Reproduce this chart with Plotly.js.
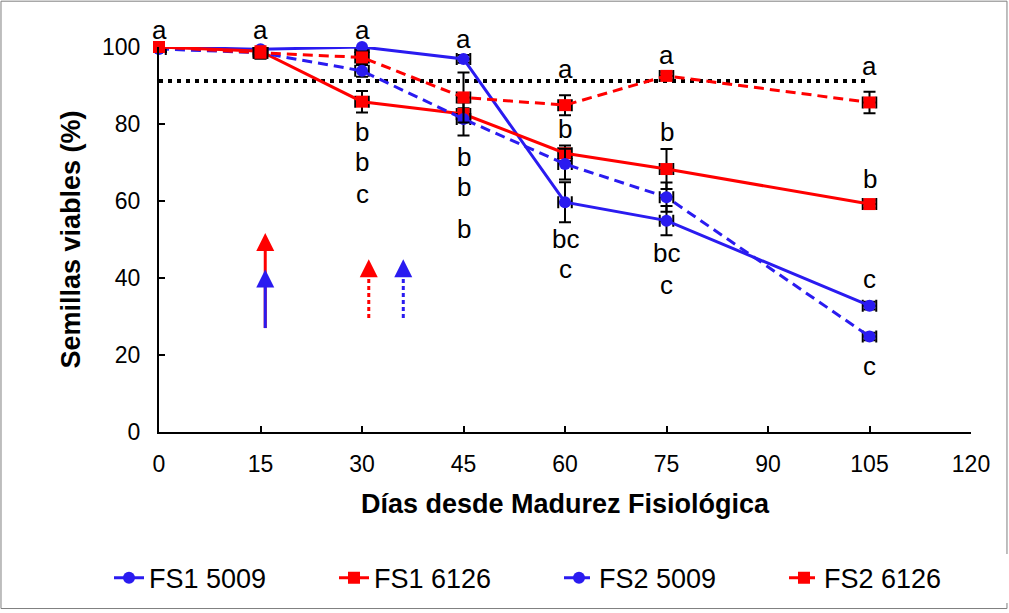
<!DOCTYPE html>
<html>
<head>
<meta charset="utf-8">
<script src="https://cdn.plot.ly/plotly-3.0.1.min.js"></script>
<style>
html,body{margin:0;padding:0;background:#fff;}
#chart{width:1009px;height:613px;}
</style>
</head>
<body>
<div id="chart"></div>
<script>
// ---- data ----
const days = [0, 15, 30, 45, 60, 75, 105];
const seriesNames = ["FS1 5009", "FS1 6126", "FS2 5009", "FS2 6126"];
const fs1_5009 = [100, 99.4, 100, 96.9, 59.7, 54.9, 32.8];
const fs1_6126 = [100, 98.9, 85.8, 82.6, 72.4, 68.3, 59.2];
const fs2_5009 = [99.5, 98.5, 93.8, 81.3, 69.6, 61.0, 24.8];
const fs2_6126 = [100, 98.5, 97.3, 86.9, 84.9, 92.5, 85.6];
const err_fs1_5009 = [0.5, 1.5, 0.8, 1, 5.2, 3.8, 1];
const err_fs1_6126 = [0.5, 1.5, 2.8, 1.5, 2, 5.2, 1];
const err_fs2_5009 = [0.5, 1.5, 1.5, 4.3, 4, 3.8, 1];
const err_fs2_6126 = [0.5, 1.5, 1.5, 6.5, 2.6, 1, 2.8];
const errX = [1, 1, 1, 1, 1, 1, 1];
const refLineY = 91.2;
const refLineX = [0, 105];

const xTicks = [0, 15, 30, 45, 60, 75, 90, 105, 120];
const yTicks = [0, 20, 40, 60, 80, 100];
const yMax = 100;

// significance letters
const letterX = [0, 15, 30, 30, 30, 30, 45, 45, 45, 45, 60, 60, 60, 60, 75, 75, 75, 75, 105, 105, 105, 105];
const letterY = [104.4, 104.4, 104.4, 77.9, 70.1, 61.8, 102.1, 71.4, 63.6, 52.7, 94.3, 78.7, 50.1, 42.3, 97.9, 77.9, 46.5, 38.2, 95.1, 65.7, 39.7, 17.1];
const letterText = ["a", "a", "a", "b", "b", "c", "a", "b", "b", "b", "a", "b", "bc", "c", "a", "b", "bc", "c", "a", "b", "c", "c"];

// arrows (x, base, tip)
const arrowX = [15.7, 15.7, 31.0, 36.1];
const arrowBase = [27, 27, 29.6, 29.6];
const arrowTip = [51.7, 42.2, 44.9, 44.9];
const arrowColor = ["#ff0000", "#2a1bf0", "#ff0000", "#2a1bf0"];
const arrowDash = ["solid", "solid", "dot", "dot"];

const BLUE = "#2a1bf0";
const RED = "#ff0000";
const FONT = "Liberation Sans, Arial, sans-serif";

function mk(name, y, err, color, dash, symbol, size) {
  return {
    x: days, y: y, name: name, type: "scatter", mode: "lines+markers",
    cliponaxis: false,
    line: {color: color, width: 3, dash: dash},
    marker: {color: color, symbol: symbol, size: size},
    error_y: {type: "data", array: err, visible: true, color: "#000", thickness: 2, width: 6},
    error_x: {type: "data", array: errX, visible: true, color: "#000", thickness: 2, width: 6}
  };
}

const traces = [
  mk(seriesNames[0], fs1_5009, err_fs1_5009, BLUE, "solid", "circle", 12),
  mk(seriesNames[1], fs1_6126, err_fs1_6126, RED, "solid", "square", 12),
  mk(seriesNames[2], fs2_5009, err_fs2_5009, BLUE, "10px,6px", "circle", 12),
  mk(seriesNames[3], fs2_6126, err_fs2_6126, RED, "10px,6px", "square", 12)
];

const shapes = [
  {type: "line", xref: "x", yref: "y", x0: refLineX[0], x1: refLineX[1], y0: refLineY, y1: refLineY,
   line: {color: "#000", width: 4, dash: "4px,5px"}, layer: "below"},
  {type: "rect", xref: "paper", yref: "paper", x0: -0.1946, x1: 1.0443, y0: -0.4585, y1: 1.119,
   line: {color: "#7f7f7f", width: 1}}
];
const annotations = [];
for (let i = 0; i < arrowX.length; i++) {
  shapes.push({type: "line", xref: "x", yref: "y", x0: arrowX[i], x1: arrowX[i],
    y0: arrowBase[i], y1: arrowTip[i] - 3, line: {color: arrowColor[i], width: 3, dash: arrowDash[i] === "dot" ? "4px,3px" : "solid"}});
  annotations.push({xref: "x", yref: "y", axref: "x", ayref: "y", x: arrowX[i], y: arrowTip[i],
    ax: arrowX[i], ay: arrowTip[i] - 4, text: "", showarrow: true, arrowhead: 2,
    arrowsize: 1.2, arrowwidth: 3, arrowcolor: arrowColor[i], standoff: 0, startstandoff: 0});
}
for (let i = 0; i < letterX.length; i++) {
  // paper y so labels above the axis top are still drawn
  annotations.push({xref: "x", yref: "paper", x: letterX[i], y: letterY[i] / yMax, text: letterText[i],
    showarrow: false, font: {family: FONT, size: 26, color: "#000"}, xanchor: "center", yanchor: "middle"});
}

const layout = {
  width: 1009, height: 613,
  margin: {l: 159, r: 38, t: 47, b: 180},
  paper_bgcolor: "#fff", plot_bgcolor: "#fff",
  font: {family: FONT, color: "#000"},
  showlegend: true,
  legend: {orientation: "h", x: -0.034, xanchor: "left", y: -0.376, yanchor: "middle",
    font: {family: FONT, size: 27, color: "#000"}, entrywidth: 180, entrywidthmode: "pixels", tracegroupgap: 0},
  xaxis: {range: [0, 120], tickvals: xTicks, ticktext: xTicks.map(String),
    showgrid: false, zeroline: false, showline: true, linecolor: "#000", linewidth: 2,
    ticks: "inside", ticklen: 6, tickwidth: 2, tickcolor: "#000",
    tickfont: {family: FONT, size: 23, color: "#000"}, ticklabelstandoff: 10,
    title: {text: "<b>Días desde Madurez Fisiológica</b>", font: {family: FONT, size: 27, color: "#000"}, standoff: 19},
    automargin: false},
  yaxis: {range: [0, yMax], tickvals: yTicks, ticktext: yTicks.map(String),
    showgrid: false, zeroline: false, showline: true, linecolor: "#000", linewidth: 2,
    ticks: "inside", ticklen: 6, tickwidth: 2, tickcolor: "#000",
    tickfont: {family: FONT, size: 23, color: "#000"}, ticklabelstandoff: 12,
    title: {text: "<b>Semillas viables (%)</b>", font: {family: FONT, size: 27, color: "#000"}, standoff: 14},
    automargin: false},
  shapes: shapes,
  annotations: annotations
};

Plotly.newPlot("chart", traces, layout, {displayModeBar: false, staticPlot: true});
</script>
</body>
</html>
